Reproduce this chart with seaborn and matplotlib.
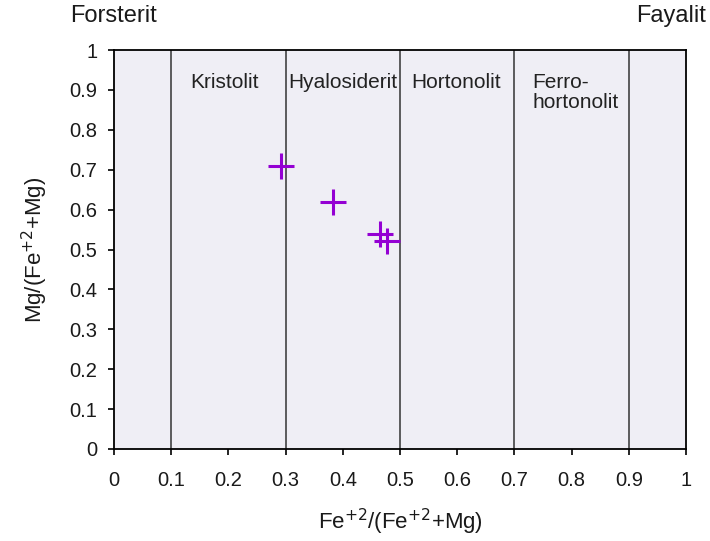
import seaborn as sns
import matplotlib.pyplot as plt
import pandas as pd

# measured olivine compositions
fe_ratio = [0.292, 0.383, 0.465, 0.477]
mg_ratio = [0.709, 0.619, 0.539, 0.521]

# classification boundaries and names
boundaries = [0.1, 0.3, 0.5, 0.7, 0.9]
zone_names = ["Kristolit", "Hyalosiderit", "Hortonolit", "Ferro-\nhortonolit"]
zone_label_x = [0.133, 0.304, 0.52, 0.731]
ticks = [0, 0.1, 0.2, 0.3, 0.4, 0.5, 0.6, 0.7, 0.8, 0.9, 1]
tick_labels = ["0", "0.1", "0.2", "0.3", "0.4", "0.5", "0.6", "0.7", "0.8", "0.9", "1"]

df = pd.DataFrame({"fe": fe_ratio, "mg": mg_ratio})

sns.set_style("ticks")
plt.rcParams['font.family'] = ['Liberation Sans', 'DejaVu Sans']

fig = plt.figure(figsize=(7.1, 5.41), dpi=100)
ax = fig.add_axes([114 / 710, 1 - 449 / 541, 572 / 710, 399 / 541])
ax.set_facecolor('#efeef5')

for b in boundaries:
    ax.axvline(b, color='#333333', lw=1.1, zorder=1)

sns.scatterplot(data=df, x="fe", y="mg", marker='+', s=330, color='#9400d3',
                linewidth=2.2, ax=ax, zorder=3)

for name, x0 in zip(zone_names, zone_label_x):
    ax.text(x0, 0.942, name, fontsize=15, color='#222222',
            ha='left', va='top', linespacing=1.05)

ax.set_xlim(0, 1)
ax.set_ylim(0, 1)
ax.set_xticks(ticks)
ax.set_xticklabels(tick_labels)
ax.set_yticks(ticks)
ax.set_yticklabels(tick_labels)
ax.tick_params(axis='both', labelsize=14.5, length=4, width=1.2, color='black',
               labelcolor='#1a1a1a')
ax.tick_params(axis='x', pad=12)
ax.tick_params(axis='y', pad=8)
for sp in ax.spines.values():
    sp.set_visible(True)
    sp.set_color('black')
    sp.set_linewidth(1.3)

ax.set_xlabel("Fe$^{+2}$/(Fe$^{+2}$+Mg)", fontsize=16, color='#1a1a1a', labelpad=12)
ax.set_ylabel("Mg/(Fe$^{+2}$+Mg)", fontsize=16, color='#1a1a1a', labelpad=14)

fig.text(113 / 710, 1 - 16 / 541, "Forsterit", fontsize=17, color='#1a1a1a',
         ha='center', va='center')
fig.text(706 / 710, 1 - 16 / 541, "Fayalit", fontsize=17, color='#1a1a1a',
         ha='right', va='center')

fig.savefig("out.png", dpi=100)
